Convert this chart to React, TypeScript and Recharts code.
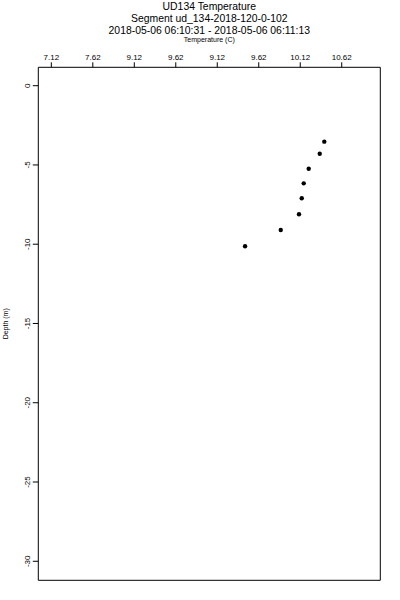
import { ScatterChart, Scatter, XAxis, YAxis, ReferenceArea, Customized } from 'recharts'

// temperature (C) vs depth (m)
const temps = [10.41, 10.355, 10.222, 10.162, 10.138, 10.105, 9.885, 9.455]
const depths = [-3.53, -4.29, -5.24, -6.16, -7.1, -8.11, -9.1, -10.13]

const xTicks = [7.12, 7.62, 8.12, 8.62, 9.12, 9.62, 10.12, 10.62]
const xTickLabels = ['7.12', '7.62', '9.12', '9.62', '9.12', '9.62', '10.12', '10.62']
const yTicks = [0, -5, -10, -15, -20, -25, -30]

const titleLines = [
  'UD134 Temperature',
  'Segment ud_134-2018-120-0-102',
  '2018-05-06 06:10:31 - 2018-05-06 06:11:13',
]
const titleY = [10.3, 21.6, 34.4]

const X_DOMAIN: [number, number] = [6.963, 11.085]
const Y_DOMAIN: [number, number] = [-31.2, 1.16]
const FONT = '"Liberation Sans", Arial, Helvetica, sans-serif'

const TopTick = (props: any) => {
  const { x, y, payload, index } = props
  return (
    <text x={x} y={y} textAnchor="middle" fontSize={8} fontFamily={FONT} fill="#000">
      {xTickLabels[index] ?? payload.value}
    </text>
  )
}

const LeftTick = (props: any) => {
  const { x, y, payload } = props
  return (
    <text
      x={x}
      y={y}
      transform={`rotate(-90, ${x}, ${y})`}
      textAnchor="middle"
      fontSize={8}
      fontFamily={FONT}
      fill="#000"
    >
      {String(payload.value)}
    </text>
  )
}

const Dot = (props: any) => <circle cx={props.cx} cy={props.cy} r={2.2} fill="#000" />

const Titles = () => (
  <g fontFamily={FONT}>
    {titleLines.map((t, i) => (
      <text key={i} x={209.3} y={titleY[i]} textAnchor="middle" fontSize={10.4} fill="#000">
        {t}
      </text>
    ))}
    <text x={209.3} y={42} textAnchor="middle" fontSize={7} fill="#000">
      Temperature (C)
    </text>
    <text x={8} y={323.8} transform="rotate(-90, 8, 323.8)" textAnchor="middle" fontSize={7} fill="#000">
      Depth (m)
    </text>
  </g>
)

export default function App() {
  const data = temps.map((t, i) => ({ temp: t, depth: depths[i] }))

  return (
    <div style={{ position: 'absolute', left: 0, top: 0, background: '#fff' }}>
      <ScatterChart
        width={400}
        height={600}
        margin={{ top: 47.3, right: 19.7, bottom: 19.7, left: 8.3 }}
      >
        <XAxis
          type="number"
          dataKey="temp"
          orientation="top"
          height={20}
          domain={X_DOMAIN}
          ticks={xTicks}
          allowDataOverflow
          axisLine={false}
          tickSize={5}
          tickLine={{ stroke: '#000', strokeWidth: 1 }}
          tick={<TopTick />}
          interval={0}
        />
        <YAxis
          type="number"
          dataKey="depth"
          width={30}
          domain={Y_DOMAIN}
          ticks={yTicks}
          allowDataOverflow
          axisLine={false}
          tickSize={5.5}
          tickMargin={3}
          tickLine={{ stroke: '#000', strokeWidth: 1 }}
          tick={<LeftTick />}
          interval={0}
        />
        <ReferenceArea
          x1={X_DOMAIN[0]}
          x2={X_DOMAIN[1]}
          y1={Y_DOMAIN[0]}
          y2={Y_DOMAIN[1]}
          fill="none"
          stroke="#000"
          strokeWidth={1}
          ifOverflow="visible"
        />
        <Scatter data={data} shape={<Dot />} isAnimationActive={false} />
        <Customized component={Titles} />
      </ScatterChart>
    </div>
  )
}
